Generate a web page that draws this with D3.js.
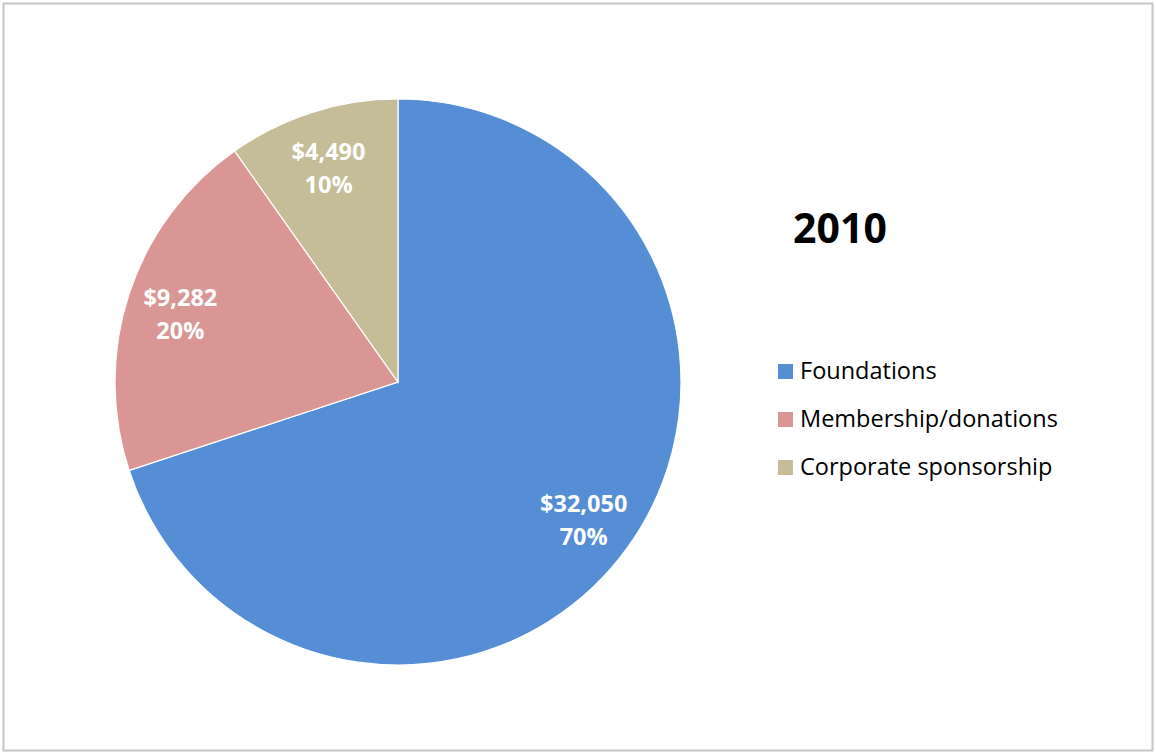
<!DOCTYPE html>
<html>
<head>
<meta charset="utf-8">
<title>2010</title>
<style>
  body { margin: 0; background: #fff; }
  svg { display: block; font-family: "Open Sans", Lato, sans-serif; }
</style>
</head>
<body>
<script src="https://cdn.jsdelivr.net/npm/d3@7/dist/d3.min.js"></script>
<script>
  const categories = ["Foundations", "Membership/donations", "Corporate sponsorship"];
  const amounts = [32050, 9282, 4490];
  const colors = ["#558ed5", "#d99694", "#c4bd97"];
  const title = "2010";

  const width = 1156, height = 754;
  const cx = 398, cy = 382, radius = 283;

  const svg = d3.select("body").append("svg")
    .attr("width", width)
    .attr("height", height);

  // chart frame
  svg.append("rect")
    .attr("x", 3.5).attr("y", 3.5)
    .attr("width", width - 7).attr("height", height - 7)
    .attr("fill", "#fff")
    .attr("stroke", "#c6c6c6")
    .attr("stroke-width", 2);

  const color = d3.scaleOrdinal().domain(categories).range(colors);
  const total = d3.sum(amounts);
  const fmt = d3.format("$,");

  const pie = d3.pie().sort(null).value(d => d.v);
  const arcs = pie(categories.map((c, i) => ({ c: c, v: amounts[i] })));

  const arc = d3.arc().innerRadius(0).outerRadius(radius);
  const labelArc = d3.arc().innerRadius(radius * 0.81).outerRadius(radius * 0.81);

  const g = svg.append("g").attr("transform", `translate(${cx},${cy})`);

  g.selectAll("path")
    .data(arcs)
    .enter().append("path")
    .attr("d", arc)
    .attr("fill", d => color(d.data.c))
    .attr("stroke", "#fff")
    .attr("stroke-width", 1.2);

  const lbl = g.selectAll("text.lbl")
    .data(arcs)
    .enter().append("text")
    .attr("class", "lbl")
    .attr("transform", d => `translate(${labelArc.centroid(d)})`)
    .attr("text-anchor", "middle")
    .attr("fill", "#fff")
    .attr("font-weight", "bold")
    .attr("font-size", 23.5);

  lbl.append("tspan")
    .attr("x", 0).attr("y", -4)
    .text(d => fmt(d.data.v));
  lbl.append("tspan")
    .attr("x", 0).attr("y", 29)
    .text(d => Math.round(d.data.v / total * 100) + "%");

  // title
  svg.append("text")
    .attr("x", 840).attr("y", 243)
    .attr("text-anchor", "middle")
    .attr("font-size", 41)
    .attr("font-weight", "bold")
    .attr("fill", "#000")
    .text(title);

  // legend
  const legend = svg.selectAll("g.legend")
    .data(categories)
    .enter().append("g")
    .attr("class", "legend")
    .attr("transform", (d, i) => `translate(778,${371 + i * 48})`);

  legend.append("rect")
    .attr("x", 0).attr("y", -7)
    .attr("width", 15).attr("height", 15)
    .attr("fill", d => color(d));

  legend.append("text")
    .attr("x", 22).attr("y", 8)
    .attr("font-size", 23.5)
    .attr("fill", "#000")
    .text(d => d);
</script>
</body>
</html>
